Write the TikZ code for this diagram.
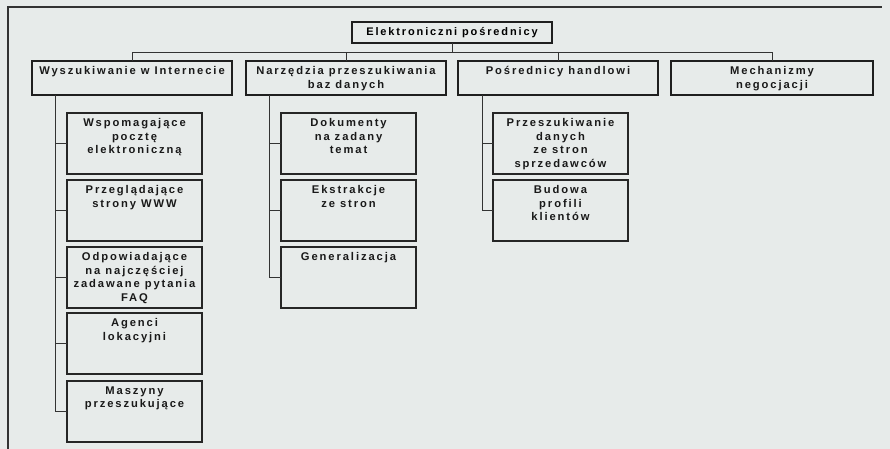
\documentclass[tikz,border=0pt]{standalone}
\usepackage{fontspec}
\setmainfont{Liberation Sans}[LetterSpace=17]
\begin{document}
\begin{tikzpicture}[x=1pt,y=-1pt,
  every node/.style={inner sep=0pt, outer sep=0pt},
  lbl/.style={font=\bfseries\fontsize{11.2}{13.5}\selectfont, align=center, text=black!90, anchor=north, yshift=-5.5pt},
  topbox/.style={draw=black!88, line width=1.8pt, minimum width=200pt, minimum height=21pt, font=\bfseries\fontsize{11}{13.5}\selectfont},
  mainbox/.style={draw=black!88, line width=1.6pt, minimum width=200pt, minimum height=34pt, anchor=north west},
  subbox/.style={draw=black!85, line width=1.2pt, minimum width=135pt, minimum height=61pt, anchor=north west},
  conn/.style={draw=black!80, line width=0.9pt},
  frame/.style={draw=black!80, line width=1.4pt}]
\fill[fill={rgb,255:red,231;green,235;blue,234}] (0,0) rectangle (890,449);
\useasboundingbox (0,0) rectangle (890,449);
% frame
\coordinate (fbl) at (8,449);
\coordinate (ftl) at (8,7);
\coordinate (ftr) at (882,7);
\draw[frame] (fbl) -- (ftl) -- (ftr);
% top
\node[topbox] (top) at (452,32.5) {Elektroniczni pośrednicy};
% level 1
\node[mainbox, label={[lbl]north:{Wyszukiwanie w Internecie}}] (m1) at (32,61) {};
\node[mainbox, label={[lbl]north:{Narzędzia przeszukiwania\\baz danych}}] (m2) at (246,61) {};
\node[mainbox, label={[lbl]north:{Pośrednicy handlowi}}] (m3) at (458,61) {};
\node[mainbox, minimum width=202pt, label={[lbl]north:{Mechanizmy\\negocjacji}}] (m4) at (671,61) {};
\foreach \m in {m1,m2,m3,m4}
  \draw[conn] (top.south) -- ++(0,9.5) -| (\m.north);
% column 1
\node[subbox, label={[lbl]north:{Wspomagające\\pocztę\\elektroniczną}}] (a1) at (67,113) {};
\node[subbox, label={[lbl]north:{Przeglądające\\strony WWW}}] (a2) at (67,180) {};
\node[subbox, label={[lbl]north:{Odpowiadające\\na najczęściej\\zadawane pytania\\FAQ}}] (a3) at (67,247) {};
\node[subbox, label={[lbl]north:{Agenci\\lokacyjni}}] (a4) at (67,313) {};
\node[subbox, label={[lbl]north:{Maszyny\\przeszukujące}}] (a5) at (67,381) {};
\coordinate (s1) at ([xshift=23pt]m1.south west);
\foreach \c in {a1,a2,a3,a4,a5}
  \draw[conn] (s1) |- (\c.west);
% column 2
\node[subbox, label={[lbl]north:{Dokumenty\\na zadany\\temat}}] (b1) at (281,113) {};
\node[subbox, label={[lbl]north:{Ekstrakcje\\ze stron}}] (b2) at (281,180) {};
\node[subbox, label={[lbl]north:{Generalizacja}}] (b3) at (281,247) {};
\coordinate (s2) at ([xshift=23pt]m2.south west);
\foreach \c in {b1,b2,b3}
  \draw[conn] (s2) |- (\c.west);
% column 3
\node[subbox, label={[lbl]north:{Przeszukiwanie\\danych\\ze stron\\sprzedawców}}] (c1) at (493,113) {};
\node[subbox, label={[lbl]north:{Budowa\\profili\\klientów}}] (c2) at (493,180) {};
\coordinate (s3) at ([xshift=24pt]m3.south west);
\foreach \c in {c1,c2}
  \draw[conn] (s3) |- (\c.west);
\end{tikzpicture}
\end{document}
